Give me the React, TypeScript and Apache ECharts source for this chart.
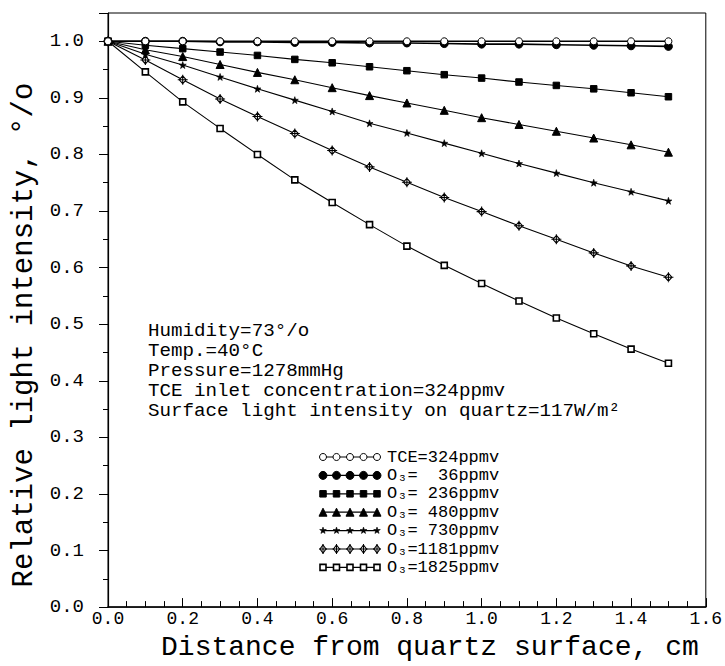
import React, { useEffect, useRef } from "react";
import * as echarts from "echarts";

// ---- data ----
const DIST = [0, 0.1, 0.2, 0.3, 0.4, 0.5, 0.6, 0.7, 0.8, 0.9, 1.0, 1.1, 1.2, 1.3, 1.4, 1.5];
const TCE_324 = [1.0, 1.0, 1.0, 1.0, 1.0, 1.0, 1.0, 1.0, 1.0, 1.0, 1.0, 1.0, 1.0, 1.0, 1.0, 1.0];
const O3_36 = [1.0, 1.0, 1.0, 0.999, 0.999, 0.998, 0.998, 0.997, 0.997, 0.996, 0.995, 0.995, 0.994, 0.993, 0.992, 0.991];
const O3_236 = [1.0, 0.993, 0.987, 0.981, 0.975, 0.968, 0.962, 0.955, 0.948, 0.941, 0.935, 0.928, 0.922, 0.916, 0.909, 0.902];
const O3_480 = [1.0, 0.985, 0.973, 0.959, 0.945, 0.932, 0.918, 0.904, 0.891, 0.878, 0.865, 0.853, 0.841, 0.829, 0.817, 0.804];
const O3_730 = [1.0, 0.977, 0.958, 0.937, 0.916, 0.896, 0.876, 0.855, 0.838, 0.82, 0.802, 0.784, 0.767, 0.75, 0.734, 0.718];
const O3_1181 = [1.0, 0.967, 0.932, 0.898, 0.867, 0.837, 0.807, 0.778, 0.751, 0.724, 0.699, 0.674, 0.65, 0.626, 0.603, 0.583];
const O3_1825 = [1.0, 0.946, 0.893, 0.846, 0.8, 0.755, 0.715, 0.676, 0.638, 0.604, 0.572, 0.541, 0.511, 0.483, 0.456, 0.431];

const SERIES_NAMES = ["TCE=324ppmv", "O3=36ppmv", "O3=236ppmv", "O3=480ppmv", "O3=730ppmv", "O3=1181ppmv", "O3=1825ppmv"];
const LEGEND_LABELS = [
  "TCE=324ppmv",
  "O\u2083=\u00a0\u00a036ppmv",
  "O\u2083=\u00a0236ppmv",
  "O\u2083=\u00a0480ppmv",
  "O\u2083=\u00a0730ppmv",
  "O\u2083=1181ppmv",
  "O\u2083=1825ppmv",
];
const SERIES_VALUES = [TCE_324, O3_36, O3_236, O3_480, O3_730, O3_1181, O3_1825];

const NOTE_LINES = [
  "Humidity=73°/o",
  "Temp.=40°C",
  "Pressure=1278mmHg",
  "TCE inlet concentration=324ppmv",
  "Surface light intensity on quartz=117W/m²",
];

const X_TITLE = "Distance from quartz surface, cm";
const Y_TITLE = "Relative light intensity, °/o";

// ---- styles ----
const FONT = "'Liberation Mono', 'DejaVu Sans Mono', monospace";
const STAR_PATH =
  "path://M0,-10L2.35,-3.24L9.51,-3.09L3.8,1.24L5.88,8.09L0,4L-5.88,8.09L-3.8,1.24L-9.51,-3.09L-2.35,-3.24Z";
const DIAMOND_CROSS_PATH = "path://M0,-10L7,0L0,10L-7,0ZM-10,0L10,0M0,-13L0,13";

type Mk = { kind: string; size: number; fill: string; lw: number };
const MARKERS: Mk[] = [
  { kind: "circle", size: 7, fill: "#fff", lw: 1 },
  { kind: "circle", size: 8, fill: "#000", lw: 1 },
  { kind: "rect", size: 6.5, fill: "#000", lw: 1 },
  { kind: "triangle", size: 8, fill: "#000", lw: 1 },
  { kind: "star", size: 7, fill: "#000", lw: 0.6 },
  { kind: "diamondCross", size: 10, fill: "#fff", lw: 1.1 },
  { kind: "rect", size: 6, fill: "#fff", lw: 1.6 },
];
const LINE_W = [1.6, 1.6, 1.1, 1.1, 1.1, 1.1, 1.1];

function symbolOf(kind: string) {
  if (kind === "star") return STAR_PATH;
  if (kind === "diamondCross") return DIAMOND_CROSS_PATH;
  return kind;
}

function legendMarker(m: Mk, cx: number, cy: number): any {
  const s = m.size;
  const style = { fill: m.fill, stroke: "#000", lineWidth: m.lw };
  if (m.kind === "circle") return { type: "circle", shape: { cx, cy, r: s / 2 }, style };
  if (m.kind === "rect")
    return { type: "rect", shape: { x: cx - s / 2, y: cy - s / 2, width: s, height: s }, style };
  if (m.kind === "triangle")
    return {
      type: "polygon",
      shape: { points: [[cx, cy - s / 2], [cx + s / 2, cy + s / 2], [cx - s / 2, cy + s / 2]] },
      style,
    };
  if (m.kind === "star") {
    const pts: number[][] = [];
    for (let k = 0; k < 10; k++) {
      const r = k % 2 === 0 ? s / 2 : s / 5;
      const a = -Math.PI / 2 + (k * Math.PI) / 5;
      pts.push([cx + r * Math.cos(a), cy + r * Math.sin(a)]);
    }
    return { type: "polygon", shape: { points: pts }, style };
  }
  const h = s / 2;
  return {
    type: "group",
    children: [
      {
        type: "polygon",
        shape: { points: [[cx, cy - h * 0.8], [cx + h * 0.6, cy], [cx, cy + h * 0.8], [cx - h * 0.6, cy]] },
        style,
      },
      { type: "line", shape: { x1: cx - h * 0.8, y1: cy, x2: cx + h * 0.8, y2: cy }, style: { stroke: "#000", lineWidth: 1 } },
      { type: "line", shape: { x1: cx, y1: cy - h, x2: cx, y2: cy + h }, style: { stroke: "#000", lineWidth: 1 } },
    ],
  };
}

export default function App() {
  const ref = useRef<HTMLDivElement>(null);

  useEffect(() => {
    if (!ref.current) return;
    const chart = echarts.init(ref.current, null, { renderer: "svg" });

    const series = SERIES_NAMES.map((name, i) => ({
      name,
      type: "line",
      data: DIST.map((d, j) => [d, SERIES_VALUES[i][j]]),
      symbol: symbolOf(MARKERS[i].kind),
      symbolSize: MARKERS[i].size,
      showAllSymbol: true,
      lineStyle: { color: "#000", width: LINE_W[i] },
      itemStyle: { color: MARKERS[i].fill, borderColor: "#000", borderWidth: MARKERS[i].lw },
      z: 10 - i,
    }));

    const LX0 = 323;
    const LX1 = 377;
    const LY0 = 457;
    const LDY = 18.4;
    const legendChildren: any[] = [];
    SERIES_NAMES.forEach((_, i) => {
      const y = LY0 + i * LDY;
      legendChildren.push({
        type: "line",
        shape: { x1: LX0, y1: y, x2: LX1, y2: y },
        style: { stroke: "#000", lineWidth: 1.2 },
      });
      for (let k = 0; k < 5; k++) {
        legendChildren.push(legendMarker(MARKERS[i], LX0 + (k * (LX1 - LX0)) / 4, y));
      }
      legendChildren.push({
        type: "text",
        x: 387,
        y,
        style: {
          text: LEGEND_LABELS[i],
          fill: "#000",
          fontFamily: FONT,
          fontSize: 17,
          verticalAlign: "middle",
        },
      });
    });

    const noteChildren = NOTE_LINES.map((t, i) => ({
      type: "text",
      x: 148,
      y: 331 + i * 20,
      style: { text: t, fill: "#000", fontFamily: FONT, fontSize: 19.2, verticalAlign: "middle" },
    }));

    chart.setOption({
      animation: false,
      backgroundColor: "#fff",
      grid: {
        left: 108,
        right: 15,
        top: 13,
        bottom: 52,
        show: true,
        borderColor: "#000",
        borderWidth: 1,
        backgroundColor: "transparent",
      },
      xAxis: {
        type: "value",
        min: 0,
        max: 1.6,
        interval: 0.2,
        name: X_TITLE,
        nameLocation: "middle",
        nameGap: 24,
        nameTextStyle: { fontFamily: FONT, fontSize: 28, color: "#000", padding: [0, 0, 0, 46] },
        axisLine: { lineStyle: { color: "#000", width: 1.5 } },
        axisTick: { inside: true, length: 9, lineStyle: { color: "#000" } },
        minorTick: { show: true, splitNumber: 4, length: 6, lineStyle: { color: "#000" } },
        splitLine: { show: false },
        axisLabel: {
          margin: 3,
          fontFamily: FONT,
          fontSize: 18,
          color: "#000",
          formatter: (v: number) => v.toFixed(1),
        },
      },
      yAxis: {
        type: "value",
        min: 0,
        max: 1.05,
        interval: 0.1,
        name: Y_TITLE,
        nameLocation: "middle",
        nameRotate: 90,
        nameGap: 64,
        nameTextStyle: { fontFamily: FONT, fontSize: 29, color: "#000", padding: [0, 50, 0, 0] },
        axisLine: { lineStyle: { color: "#000", width: 1.2 } },
        axisTick: { inside: false, length: 9, lineStyle: { color: "#000" } },
        minorTick: { show: true, splitNumber: 2, length: 5, lineStyle: { color: "#000" } },
        splitLine: { show: false },
        axisLabel: {
          margin: 24,
          fontFamily: FONT,
          fontSize: 19,
          color: "#000",
          showMaxLabel: false,
          formatter: (v: number) => (Math.abs(v * 10 - Math.round(v * 10)) < 1e-6 ? v.toFixed(1) : ""),
        },
      },
      series,
      graphic: [
        { type: "group", z: 100, children: noteChildren },
        { type: "group", z: 100, children: legendChildren },
      ],
    });

    return () => chart.dispose();
  }, []);

  return (
    <div
      ref={ref}
      style={{ position: "fixed", left: 0, top: 0, width: 725, height: 666, background: "#fff" }}
    />
  );
}
